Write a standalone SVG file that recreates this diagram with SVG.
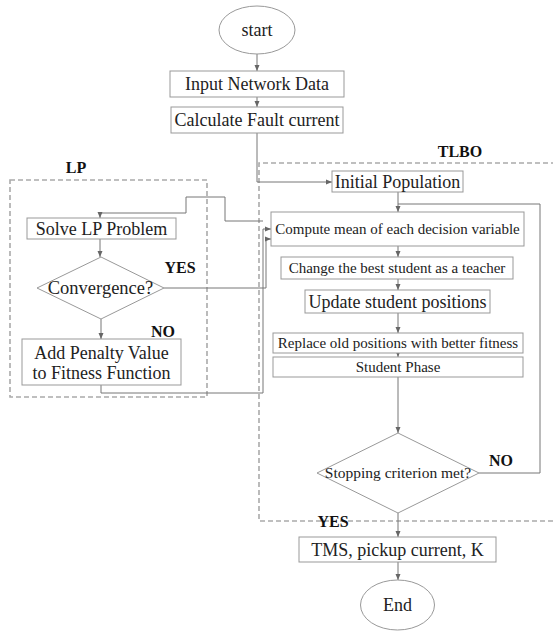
<svg xmlns="http://www.w3.org/2000/svg" width="553" height="632" viewBox="0 0 553 632">
<defs>
<marker id="ah" viewBox="0 0 6 6" refX="6" refY="3" markerWidth="6" markerHeight="6" markerUnits="userSpaceOnUse" orient="auto">
<path d="M0,0.5 L6,3 L0,5.5 Z" fill="#666"/>
</marker>
<style>
.box{fill:#fff;stroke:#999;stroke-width:1}
.t{font-family:"Liberation Serif","Times New Roman",serif;fill:#222;text-anchor:middle}
.lbl{font-family:"Liberation Serif","Times New Roman",serif;fill:#111;font-weight:bold;font-size:16px;text-anchor:middle}
.c{fill:none;stroke:#777;stroke-width:1}
.dash{fill:none;stroke:#aaa;stroke-width:1.6;stroke-dasharray:5,3}
</style>
</defs>
<rect width="553" height="632" fill="#fff"/>

<g id="groups">
<rect class="dash" x="10" y="180" width="197" height="217"/>
<path class="dash" d="M556,163 H259 V521 H556"/>
<text class="lbl" x="76" y="173">LP</text>
<text class="lbl" x="460" y="157">TLBO</text>
</g>

<g id="connectors">
<path class="c" d="M257,54 V71" marker-end="url(#ah)"/>
<path class="c" d="M257,97 V107" marker-end="url(#ah)"/>
<path class="c" d="M257,133 V182 H332" marker-end="url(#ah)"/>
<path class="c" d="M398,192 V212" marker-end="url(#ah)"/>
<path class="c" d="M479,473 H540 V204 H398"/>
<path class="c" d="M398,246 V257" marker-end="url(#ah)"/>
<path class="c" d="M398,279 V290" marker-end="url(#ah)"/>
<path class="c" d="M398,313 V333" marker-end="url(#ah)"/>
<path class="c" d="M398,353 V357" marker-end="url(#ah)"/>
<path class="c" d="M398,377 V433" marker-end="url(#ah)"/>
<path class="c" d="M398,513 V537" marker-end="url(#ah)"/>
<path class="c" d="M398,562 V580" marker-end="url(#ah)"/>
<path class="c" d="M263,221 H225 V197 H186 V213 H100 V218" marker-end="url(#ah)"/>
<path class="c" d="M100,239 V257" marker-end="url(#ah)"/>
<path class="c" d="M101,319 V339" marker-end="url(#ah)"/>
<path class="c" d="M164,288 H266 V239 H271" marker-end="url(#ah)"/>
<path class="c" d="M101,385 V393 H263 V229 H271" marker-end="url(#ah)"/>
<text class="lbl" x="180" y="273">YES</text>
<text class="lbl" x="163" y="337">NO</text>
<text class="lbl" x="501" y="466">NO</text>
<text class="lbl" x="333" y="527">YES</text>
</g>

<g id="start">
<ellipse class="box" cx="257" cy="30" rx="38" ry="24"/>
<text class="t" x="257" y="36" font-size="18">start</text>
</g>
<g id="input">
<rect class="box" x="170" y="71" width="174" height="26"/>
<text class="t" x="257" y="90" font-size="18">Input Network Data</text>
</g>
<g id="fault">
<rect class="box" x="171" y="107" width="172" height="26"/>
<text class="t" x="257" y="126" font-size="18">Calculate Fault current</text>
</g>
<g id="initpop">
<rect class="box" x="332" y="171" width="131" height="21"/>
<text class="t" x="397.5" y="187.5" font-size="18">Initial Population</text>
</g>
<g id="mean">
<rect class="box" x="271" y="212" width="253" height="34"/>
<text class="t" x="397.5" y="234" font-size="15">Compute mean of each decision variable</text>
</g>
<g id="teacher">
<rect class="box" x="281" y="257" width="232" height="22"/>
<text class="t" x="397" y="273" font-size="15">Change the best student as a teacher</text>
</g>
<g id="update">
<rect class="box" x="305" y="290" width="185" height="23"/>
<text class="t" x="397.5" y="307.5" font-size="18">Update student positions</text>
</g>
<g id="replace">
<rect class="box" x="273" y="333" width="250" height="20"/>
<text class="t" x="398" y="348" font-size="15">Replace old positions with better fitness</text>
</g>
<g id="studentphase">
<rect class="box" x="273" y="357" width="250" height="20"/>
<text class="t" x="398" y="372" font-size="15">Student Phase</text>
</g>
<g id="stopping">
<polygon class="box" points="398,433 479,473 398,513 317,473"/>
<text class="t" x="398" y="478" font-size="15.5">Stopping criterion met?</text>
</g>
<g id="tms">
<rect class="box" x="299" y="537" width="197" height="25"/>
<text class="t" x="397.5" y="555.5" font-size="18">TMS, pickup current, K</text>
</g>
<g id="end">
<ellipse class="box" cx="397.5" cy="605" rx="37" ry="25"/>
<text class="t" x="397.5" y="611" font-size="18">End</text>
</g>
<g id="solvelp">
<rect class="box" x="27" y="218" width="149" height="21"/>
<text class="t" x="101.5" y="234.5" font-size="18">Solve LP Problem</text>
</g>
<g id="convergence">
<polygon class="box" points="101,257 164,288 101,319 37,288"/>
<text class="t" x="100.5" y="294" font-size="18.5">Convergence?</text>
</g>
<g id="penalty">
<rect class="box" x="22" y="339" width="159" height="46"/>
<text class="t" x="101.5" y="358.5" font-size="18">Add Penalty Value</text>
<text class="t" x="101.5" y="379" font-size="18">to Fitness Function</text>
</g>
</svg>
